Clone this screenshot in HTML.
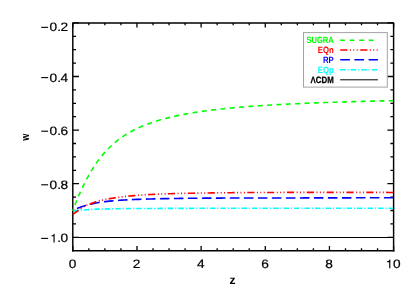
<!DOCTYPE html>
<html><head><meta charset="utf-8"><title>w(z)</title>
<style>
html,body{margin:0;padding:0;background:#fff;}
body{width:415px;height:297px;overflow:hidden;}
svg{display:block;will-change:transform;}
text{font-family:"Liberation Sans",sans-serif;fill:#000;text-rendering:geometricPrecision;}
</style></head><body>
<svg width="415" height="297" viewBox="0 0 415 297">
<rect x="0" y="0" width="415" height="297" fill="#fff"/>
<!-- frame -->
<path d="M72.8 250.65 V22.9 H393.6 V250.65" fill="none" stroke="#000" stroke-width="1.45" stroke-linejoin="round" stroke-linecap="square"/>
<path d="M72.08 250.78 H394.32" fill="none" stroke="#000" stroke-width="1.62"/>
<path d="M72.80 250.65 v-4.60 M72.80 22.90 v4.60 M88.84 250.65 v-2.30 M88.84 22.90 v2.30 M104.88 250.65 v-2.30 M104.88 22.90 v2.30 M120.92 250.65 v-2.30 M120.92 22.90 v2.30 M136.96 250.65 v-4.60 M136.96 22.90 v4.60 M153.00 250.65 v-2.30 M153.00 22.90 v2.30 M169.04 250.65 v-2.30 M169.04 22.90 v2.30 M185.08 250.65 v-2.30 M185.08 22.90 v2.30 M201.12 250.65 v-4.60 M201.12 22.90 v4.60 M217.16 250.65 v-2.30 M217.16 22.90 v2.30 M233.20 250.65 v-2.30 M233.20 22.90 v2.30 M249.24 250.65 v-2.30 M249.24 22.90 v2.30 M265.28 250.65 v-4.60 M265.28 22.90 v4.60 M281.32 250.65 v-2.30 M281.32 22.90 v2.30 M297.36 250.65 v-2.30 M297.36 22.90 v2.30 M313.40 250.65 v-2.30 M313.40 22.90 v2.30 M329.44 250.65 v-4.60 M329.44 22.90 v4.60 M345.48 250.65 v-2.30 M345.48 22.90 v2.30 M361.52 250.65 v-2.30 M361.52 22.90 v2.30 M377.56 250.65 v-2.30 M377.56 22.90 v2.30 M393.60 250.65 v-4.60 M393.60 22.90 v4.60 M72.80 22.90 h6.20 M393.60 22.90 h-6.20 M72.80 36.30 h3.20 M393.60 36.30 h-3.20 M72.80 49.70 h3.20 M393.60 49.70 h-3.20 M72.80 63.10 h3.20 M393.60 63.10 h-3.20 M72.80 76.50 h6.20 M393.60 76.50 h-6.20 M72.80 89.90 h3.20 M393.60 89.90 h-3.20 M72.80 103.30 h3.20 M393.60 103.30 h-3.20 M72.80 116.70 h3.20 M393.60 116.70 h-3.20 M72.80 130.10 h6.20 M393.60 130.10 h-6.20 M72.80 143.50 h3.20 M393.60 143.50 h-3.20 M72.80 156.90 h3.20 M393.60 156.90 h-3.20 M72.80 170.30 h3.20 M393.60 170.30 h-3.20 M72.80 183.70 h6.20 M393.60 183.70 h-6.20 M72.80 197.10 h3.20 M393.60 197.10 h-3.20 M72.80 210.50 h3.20 M393.60 210.50 h-3.20 M72.80 223.90 h3.20 M393.60 223.90 h-3.20 M72.80 237.30 h6.20 M393.60 237.30 h-6.20" stroke="#000" stroke-width="1.3" fill="none"/>
<!-- curves -->
<clipPath id="cp"><rect x="71.8" y="22.9" width="321.15" height="227.75"/></clipPath>
<g fill="none" stroke-width="1.6" clip-path="url(#cp)">
<path d="M72.8 237.45 H393.6" stroke="#000" stroke-width="1.1"/>
<path d="M72.80 211.06 L73.33 210.97 L73.87 210.89 L74.40 210.82 L74.94 210.74 L75.47 210.68 L76.01 210.61 L76.54 210.55 L77.08 210.50 L77.61 210.44 L78.15 210.39 L78.68 210.34 L79.22 210.29 L79.75 210.25 L80.29 210.20 L80.82 210.16 L81.35 210.12 L81.89 210.09 L82.42 210.05 L82.96 210.02 L83.49 209.99 L84.03 209.96 L84.56 209.93 L85.10 209.90 L85.63 209.85 L86.17 209.81 L86.70 209.76 L87.24 209.72 L87.77 209.68 L88.31 209.64 L88.84 209.60 L89.37 209.56 L89.91 209.53 L90.44 209.49 L90.98 209.46 L91.51 209.42 L92.05 209.39 L92.58 209.36 L93.12 209.33 L93.65 209.30 L94.19 209.28 L94.72 209.25 L95.26 209.22 L95.79 209.20 L96.33 209.17 L96.86 209.15 L97.39 209.12 L97.93 209.10 L98.46 209.08 L99.00 209.07 L99.53 209.05 L100.07 209.04 L100.60 209.03 L101.14 209.01 L101.67 209.00 L102.21 208.98 L102.74 208.97 L103.28 208.96 L103.81 208.95 L104.35 208.93 L104.88 208.92 L107.31 208.87 L109.73 208.83 L112.16 208.78 L114.58 208.74 L117.01 208.71 L119.44 208.67 L121.86 208.64 L124.29 208.61 L126.72 208.59 L129.14 208.57 L131.57 208.55 L133.99 208.54 L136.42 208.52 L138.85 208.51 L141.27 208.50 L143.70 208.49 L146.13 208.47 L148.55 208.46 L150.98 208.45 L153.40 208.44 L155.83 208.43 L158.26 208.43 L160.68 208.42 L163.11 208.41 L165.54 208.40 L167.96 208.39 L170.39 208.38 L172.81 208.38 L175.24 208.37 L177.67 208.36 L180.09 208.35 L182.52 208.35 L184.95 208.34 L187.37 208.33 L189.80 208.33 L192.22 208.32 L194.65 208.31 L197.08 208.31 L199.50 208.30 L201.93 208.30 L204.35 208.29 L206.78 208.29 L209.21 208.29 L211.63 208.29 L214.06 208.29 L216.49 208.29 L218.91 208.29 L221.34 208.29 L223.76 208.29 L226.19 208.29 L228.62 208.29 L231.04 208.29 L233.47 208.29 L235.90 208.29 L238.32 208.29 L240.75 208.29 L243.17 208.29 L245.60 208.29 L248.03 208.29 L250.45 208.29 L252.88 208.29 L255.31 208.29 L257.73 208.29 L260.16 208.29 L262.58 208.29 L265.01 208.29 L267.44 208.29 L269.86 208.29 L272.29 208.29 L274.72 208.29 L277.14 208.29 L279.57 208.29 L281.99 208.29 L284.42 208.30 L286.85 208.30 L289.27 208.30 L291.70 208.30 L294.13 208.30 L296.55 208.30 L298.98 208.30 L301.40 208.30 L303.83 208.29 L306.26 208.29 L308.68 208.29 L311.11 208.29 L313.53 208.28 L315.96 208.28 L318.39 208.28 L320.81 208.28 L323.24 208.27 L325.67 208.27 L328.09 208.27 L330.52 208.27 L332.94 208.27 L335.37 208.26 L337.80 208.26 L340.22 208.26 L342.65 208.26 L345.08 208.25 L347.50 208.25 L349.93 208.25 L352.35 208.25 L354.78 208.24 L357.21 208.24 L359.63 208.24 L362.06 208.24 L364.49 208.23 L366.91 208.23 L369.34 208.23 L371.76 208.23 L374.19 208.22 L376.62 208.22 L379.04 208.22 L381.47 208.22 L383.90 208.21 L386.32 208.21 L388.75 208.21 L391.17 208.21 L393.60 208.21" stroke="#00ffff" stroke-dasharray="5.5 1.9 1.2 1.914" stroke-dashoffset="10.06"/>
<path d="M72.80 210.10 L73.33 209.86 L73.87 209.65 L74.40 209.45 L74.94 209.25 L75.47 209.05 L76.01 208.86 L76.54 208.68 L77.08 208.49 L77.61 208.27 L78.15 208.06 L78.68 207.85 L79.22 207.65 L79.75 207.45 L80.29 207.25 L80.82 207.06 L81.35 206.88 L81.89 206.70 L82.42 206.52 L82.96 206.35 L83.49 206.18 L84.03 206.02 L84.56 205.86 L85.10 205.71 L85.63 205.56 L86.17 205.41 L86.70 205.25 L87.24 205.09 L87.77 204.94 L88.31 204.80 L88.84 204.65 L89.37 204.51 L89.91 204.37 L90.44 204.24 L90.98 204.11 L91.51 203.98 L92.05 203.85 L92.58 203.73 L93.12 203.61 L93.65 203.49 L94.19 203.38 L94.72 203.27 L95.26 203.16 L95.79 203.05 L96.33 202.95 L96.86 202.84 L97.39 202.74 L97.93 202.64 L98.46 202.56 L99.00 202.47 L99.53 202.39 L100.07 202.31 L100.60 202.23 L101.14 202.15 L101.67 202.07 L102.21 202.00 L102.74 201.93 L103.28 201.86 L103.81 201.79 L104.35 201.72 L104.88 201.65 L107.31 201.37 L109.73 201.12 L112.16 200.89 L114.58 200.68 L117.01 200.49 L119.44 200.32 L121.86 200.17 L124.29 200.03 L126.72 199.89 L129.14 199.76 L131.57 199.64 L133.99 199.53 L136.42 199.42 L138.85 199.33 L141.27 199.24 L143.70 199.16 L146.13 199.08 L148.55 199.01 L150.98 198.94 L153.40 198.88 L155.83 198.82 L158.26 198.77 L160.68 198.72 L163.11 198.67 L165.54 198.62 L167.96 198.58 L170.39 198.54 L172.81 198.50 L175.24 198.47 L177.67 198.44 L180.09 198.40 L182.52 198.37 L184.95 198.35 L187.37 198.32 L189.80 198.30 L192.22 198.27 L194.65 198.25 L197.08 198.23 L199.50 198.21 L201.93 198.19 L204.35 198.17 L206.78 198.15 L209.21 198.14 L211.63 198.13 L214.06 198.11 L216.49 198.10 L218.91 198.09 L221.34 198.08 L223.76 198.07 L226.19 198.06 L228.62 198.06 L231.04 198.05 L233.47 198.04 L235.90 198.03 L238.32 198.03 L240.75 198.02 L243.17 198.01 L245.60 198.01 L248.03 198.00 L250.45 198.00 L252.88 197.99 L255.31 197.99 L257.73 197.98 L260.16 197.98 L262.58 197.97 L265.01 197.97 L267.44 197.97 L269.86 197.96 L272.29 197.96 L274.72 197.95 L277.14 197.95 L279.57 197.95 L281.99 197.95 L284.42 197.94 L286.85 197.94 L289.27 197.94 L291.70 197.94 L294.13 197.93 L296.55 197.93 L298.98 197.93 L301.40 197.93 L303.83 197.92 L306.26 197.92 L308.68 197.91 L311.11 197.91 L313.53 197.90 L315.96 197.90 L318.39 197.89 L320.81 197.89 L323.24 197.88 L325.67 197.88 L328.09 197.87 L330.52 197.87 L332.94 197.86 L335.37 197.86 L337.80 197.85 L340.22 197.85 L342.65 197.85 L345.08 197.84 L347.50 197.84 L349.93 197.83 L352.35 197.83 L354.78 197.82 L357.21 197.82 L359.63 197.82 L362.06 197.81 L364.49 197.81 L366.91 197.80 L369.34 197.80 L371.76 197.80 L374.19 197.79 L376.62 197.79 L379.04 197.78 L381.47 197.78 L383.90 197.78 L386.32 197.78 L388.75 197.78 L391.17 197.78 L393.60 197.78" stroke="#0000ff" stroke-dasharray="9.55 4.45" stroke-dashoffset="9.6"/>
<path d="M72.80 214.40 L73.33 214.03 L73.87 213.66 L74.40 213.28 L74.94 212.89 L75.47 212.50 L76.01 212.12 L76.54 211.74 L77.08 211.36 L77.61 211.00 L78.15 210.62 L78.68 210.19 L79.22 209.77 L79.75 209.36 L80.29 208.96 L80.82 208.57 L81.35 208.20 L81.89 207.83 L82.42 207.48 L82.96 207.14 L83.49 206.81 L84.03 206.49 L84.56 206.22 L85.10 205.96 L85.63 205.70 L86.17 205.46 L86.70 205.22 L87.24 204.99 L87.77 204.77 L88.31 204.56 L88.84 204.36 L89.37 204.16 L89.91 203.96 L90.44 203.75 L90.98 203.54 L91.51 203.34 L92.05 203.14 L92.58 202.94 L93.12 202.75 L93.65 202.57 L94.19 202.39 L94.72 202.21 L95.26 202.04 L95.79 201.87 L96.33 201.70 L96.86 201.54 L97.39 201.39 L97.93 201.23 L98.46 201.09 L99.00 200.95 L99.53 200.81 L100.07 200.68 L100.60 200.55 L101.14 200.42 L101.67 200.29 L102.21 200.17 L102.74 200.05 L103.28 199.93 L103.81 199.81 L104.35 199.70 L104.88 199.59 L107.31 199.11 L109.73 198.66 L112.16 198.24 L114.58 197.86 L117.01 197.50 L119.44 197.16 L121.86 196.85 L124.29 196.55 L126.72 196.28 L129.14 196.05 L131.57 195.83 L133.99 195.63 L136.42 195.43 L138.85 195.26 L141.27 195.09 L143.70 194.93 L146.13 194.78 L148.55 194.64 L150.98 194.51 L153.40 194.39 L155.83 194.28 L158.26 194.17 L160.68 194.07 L163.11 193.97 L165.54 193.88 L167.96 193.80 L170.39 193.72 L172.81 193.64 L175.24 193.57 L177.67 193.51 L180.09 193.44 L182.52 193.39 L184.95 193.33 L187.37 193.28 L189.80 193.23 L192.22 193.19 L194.65 193.15 L197.08 193.11 L199.50 193.07 L201.93 193.04 L204.35 193.00 L206.78 192.97 L209.21 192.93 L211.63 192.90 L214.06 192.87 L216.49 192.84 L218.91 192.81 L221.34 192.78 L223.76 192.75 L226.19 192.73 L228.62 192.71 L231.04 192.68 L233.47 192.66 L235.90 192.64 L238.32 192.62 L240.75 192.61 L243.17 192.59 L245.60 192.57 L248.03 192.56 L250.45 192.54 L252.88 192.53 L255.31 192.52 L257.73 192.51 L260.16 192.50 L262.58 192.49 L265.01 192.48 L267.44 192.47 L269.86 192.46 L272.29 192.45 L274.72 192.44 L277.14 192.44 L279.57 192.43 L281.99 192.42 L284.42 192.42 L286.85 192.41 L289.27 192.41 L291.70 192.40 L294.13 192.40 L296.55 192.39 L298.98 192.39 L301.40 192.39 L303.83 192.39 L306.26 192.38 L308.68 192.38 L311.11 192.38 L313.53 192.38 L315.96 192.38 L318.39 192.38 L320.81 192.38 L323.24 192.38 L325.67 192.38 L328.09 192.38 L330.52 192.38 L332.94 192.38 L335.37 192.38 L337.80 192.38 L340.22 192.38 L342.65 192.38 L345.08 192.39 L347.50 192.39 L349.93 192.39 L352.35 192.39 L354.78 192.39 L357.21 192.39 L359.63 192.39 L362.06 192.40 L364.49 192.40 L366.91 192.40 L369.34 192.40 L371.76 192.41 L374.19 192.41 L376.62 192.41 L379.04 192.41 L381.47 192.42 L383.90 192.42 L386.32 192.42 L388.75 192.43 L391.17 192.43 L393.60 192.44" stroke="#ff0000" stroke-dasharray="7.2 2.5 1 2.4 1 2.4 1 2.337" stroke-dashoffset="0.05"/>
<path d="M72.80 210.74 L73.33 209.23 L73.87 207.76 L74.40 206.33 L74.94 204.92 L75.47 203.55 L76.01 202.20 L76.54 200.87 L77.08 199.57 L77.61 198.28 L78.15 197.02 L78.68 195.77 L79.22 194.54 L79.75 193.33 L80.29 192.13 L80.82 190.95 L81.35 189.79 L81.89 188.65 L82.42 187.51 L82.96 186.40 L83.49 185.30 L84.03 184.21 L84.56 183.14 L85.10 182.09 L85.63 181.05 L86.17 180.02 L86.70 179.01 L87.24 178.01 L87.77 177.03 L88.31 176.06 L88.84 175.11 L89.37 174.17 L89.91 173.24 L90.44 172.33 L90.98 171.43 L91.51 170.54 L92.05 169.67 L92.58 168.81 L93.12 167.97 L93.65 167.13 L94.19 166.31 L94.72 165.50 L95.26 164.71 L95.79 163.92 L96.33 163.15 L96.86 162.39 L97.39 161.64 L97.93 160.90 L98.46 160.18 L99.00 159.46 L99.53 158.76 L100.07 158.06 L100.60 157.38 L101.14 156.71 L101.67 156.05 L102.21 155.39 L102.74 154.75 L103.28 154.12 L103.81 153.50 L104.35 152.88 L104.88 152.28 L107.31 149.65 L109.73 147.20 L112.16 144.93 L114.58 142.81 L117.01 140.83 L119.44 138.97 L121.86 137.24 L124.29 135.61 L126.72 134.08 L129.14 132.64 L131.57 131.29 L133.99 130.01 L136.42 128.81 L138.85 127.68 L141.27 126.61 L143.70 125.60 L146.13 124.65 L148.55 123.74 L150.98 122.89 L153.40 122.07 L155.83 121.30 L158.26 120.57 L160.68 119.84 L163.11 119.15 L165.54 118.49 L167.96 117.86 L170.39 117.26 L172.81 116.68 L175.24 116.13 L177.67 115.61 L180.09 115.10 L182.52 114.62 L184.95 114.15 L187.37 113.71 L189.80 113.28 L192.22 112.87 L194.65 112.47 L197.08 112.09 L199.50 111.73 L201.93 111.37 L204.35 111.03 L206.78 110.71 L209.21 110.39 L211.63 110.09 L214.06 109.79 L216.49 109.51 L218.91 109.23 L221.34 108.97 L223.76 108.71 L226.19 108.46 L228.62 108.22 L231.04 107.99 L233.47 107.76 L235.90 107.55 L238.32 107.33 L240.75 107.13 L243.17 106.93 L245.60 106.74 L248.03 106.55 L250.45 106.36 L252.88 106.19 L255.31 106.01 L257.73 105.85 L260.16 105.68 L262.58 105.53 L265.01 105.37 L267.44 105.22 L269.86 105.07 L272.29 104.93 L274.72 104.79 L277.14 104.66 L279.57 104.53 L281.99 104.40 L284.42 104.27 L286.85 104.15 L289.27 104.03 L291.70 103.91 L294.13 103.80 L296.55 103.69 L298.98 103.58 L301.40 103.47 L303.83 103.37 L306.26 103.27 L308.68 103.17 L311.11 103.07 L313.53 102.97 L315.96 102.88 L318.39 102.79 L320.81 102.69 L323.24 102.61 L325.67 102.52 L328.09 102.43 L330.52 102.35 L332.94 102.27 L335.37 102.18 L337.80 102.11 L340.22 102.03 L342.65 101.95 L345.08 101.88 L347.50 101.80 L349.93 101.73 L352.35 101.66 L354.78 101.59 L357.21 101.52 L359.63 101.45 L362.06 101.39 L364.49 101.32 L366.91 101.26 L369.34 101.20 L371.76 101.14 L374.19 101.08 L376.62 101.02 L379.04 100.96 L381.47 100.90 L383.90 100.84 L386.32 100.79 L388.75 100.73 L391.17 100.68 L393.60 100.63" stroke="#00ff00" stroke-dasharray="5.0 4.362" stroke-dashoffset="3.26"/>
</g>
<!-- labels -->
<g stroke="#000" stroke-width="0.2" fill="#000">
<rect x="41.22" y="26.80" width="6.9" height="1.1" stroke="none"/>
<text transform="translate(49.53 31.40) scale(1.1230 1)" font-size="12.2">0</text>
<text transform="translate(57.26 31.40) scale(1.1230 1)" font-size="12.2">.</text>
<text transform="translate(60.60 31.40) scale(1.1230 1)" font-size="12.2">2</text>
<rect x="41.22" y="77.05" width="6.9" height="1.1" stroke="none"/>
<text transform="translate(49.53 81.65) scale(1.1230 1)" font-size="12.2">0</text>
<text transform="translate(57.26 81.65) scale(1.1230 1)" font-size="12.2">.</text>
<text transform="translate(60.60 81.65) scale(1.1230 1)" font-size="12.2">4</text>
<rect x="41.22" y="130.65" width="6.9" height="1.1" stroke="none"/>
<text transform="translate(49.53 135.25) scale(1.1230 1)" font-size="12.2">0</text>
<text transform="translate(57.26 135.25) scale(1.1230 1)" font-size="12.2">.</text>
<text transform="translate(60.60 135.25) scale(1.1230 1)" font-size="12.2">6</text>
<rect x="41.22" y="184.25" width="6.9" height="1.1" stroke="none"/>
<text transform="translate(49.53 188.85) scale(1.1230 1)" font-size="12.2">0</text>
<text transform="translate(57.26 188.85) scale(1.1230 1)" font-size="12.2">.</text>
<text transform="translate(60.60 188.85) scale(1.1230 1)" font-size="12.2">8</text>
<rect x="41.22" y="237.85" width="6.9" height="1.1" stroke="none"/>
<path d="M372 0 L288 0 L288 508 L135 508 L135 572 C230 578 300 622 322 716 L372 716 Z" transform="translate(49.53 242.45) scale(0.01370 -0.01220)" stroke="none"/>
<text transform="translate(57.26 242.45) scale(1.1230 1)" font-size="12.2">.</text>
<text transform="translate(60.60 242.45) scale(1.1230 1)" font-size="12.2">0</text>
<text transform="translate(68.69 268.35) scale(1.1230 1)" font-size="12.2">0</text>
<text transform="translate(132.85 268.35) scale(1.1230 1)" font-size="12.2">2</text>
<text transform="translate(197.01 268.35) scale(1.1230 1)" font-size="12.2">4</text>
<text transform="translate(261.17 268.35) scale(1.1230 1)" font-size="12.2">6</text>
<text transform="translate(325.33 268.35) scale(1.1230 1)" font-size="12.2">8</text>
<path d="M372 0 L288 0 L288 508 L135 508 L135 572 C230 578 300 622 322 716 L372 716 Z" transform="translate(385.25 268.35) scale(0.01370 -0.01220)" stroke="none"/>
<text transform="translate(393.03 268.35) scale(1.1230 1)" font-size="12.2">0</text>
</g>
<text x="232.6" y="284.0" text-anchor="middle" font-size="12" font-weight="bold">z</text>
<text transform="translate(29.4 137.35) rotate(-90) scale(0.8 1)" text-anchor="middle" font-size="11.3" font-weight="bold">w</text>
<!-- legend -->
<rect x="303.5" y="32.6" width="83.8" height="54.5" fill="#fff" stroke="#a4a4a4" stroke-width="1"/>
<g font-size="9.2" font-weight="bold" text-anchor="end">
<text x="333.8" y="43.1" fill="#00ff00" style="fill:#00ff00" textLength="27.4" lengthAdjust="spacingAndGlyphs">SUGRA</text>
<text x="333.8" y="53.1" style="fill:#ff0000" textLength="16.0" lengthAdjust="spacingAndGlyphs">EQn</text>
<text x="333.8" y="62.9" style="fill:#0000ff" textLength="10.8" lengthAdjust="spacingAndGlyphs">RP</text>
<text x="333.8" y="72.9" style="fill:#00ffff" textLength="16.0" lengthAdjust="spacingAndGlyphs">EQp</text>
<text x="333.8" y="82.9" style="fill:#000" stroke="#000" stroke-width="0.25" textLength="23.2" lengthAdjust="spacingAndGlyphs">ΛCDM</text>
</g>
<g fill="none" stroke-width="1.6">
<path d="M340.2 40.2 H377.9" stroke="#00ff00" stroke-dasharray="4.7 4.8"/>
<path d="M340.2 50 H377.9" stroke="#ff0000" stroke-dasharray="7.2 2.5 1 2.4 1 2.4 1 2.5"/>
<path d="M340.2 59.8 H377.9" stroke="#0000ff" stroke-dasharray="9.7 4.5"/>
<path d="M340.2 69.7 H377.9" stroke="#00ffff" stroke-dasharray="5.5 1.9 1.2 1.9"/>
<path d="M340.2 79.8 H377.9" stroke="#000" stroke-width="1"/>
</g>
</svg>
</body></html>
